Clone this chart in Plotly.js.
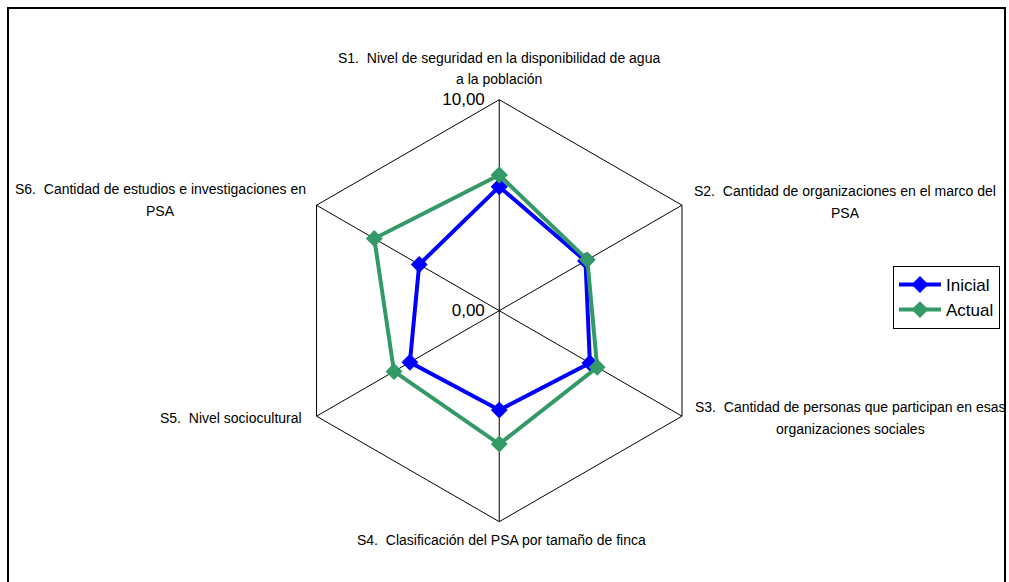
<!DOCTYPE html>
<html>
<head>
<meta charset="utf-8">
<script src="https://cdn.plot.ly/plotly-3.0.1.min.js"></script>
<style>html,body{margin:0;padding:0;background:#fff;}#chart{width:1009px;height:582px;}</style>
</head>
<body>
<div id="chart"></div>
<script>
var categories = [
  "S1.\u00a0 Nivel de seguridad en la disponibilidad de agua<br>a la población",
  "S2.\u00a0 Cantidad de organizaciones en el marco del<br>PSA",
  "S3.\u00a0 Cantidad de personas que participan en esas<br>organizaciones sociales",
  "S4.\u00a0 Clasificación del PSA por tamaño de finca",
  "S5.\u00a0 Nivel sociocultural",
  "S6.\u00a0 Cantidad de estudios e investigaciones en<br>PSA"
];
var inicial = [5.88, 4.72, 4.96, 4.71, 4.89, 4.38];
var actual  = [6.43, 4.82, 5.36, 6.32, 5.76, 6.84];
var radialTicks = [0, 10];
var radialTickText = ["0,00", "10,00"];

function closed(a){ return a.concat([a[0]]); }

var traces = [
  {type:'scatterpolar', name:'Inicial', r:closed(inicial), theta:closed(categories),
   mode:'lines+markers', line:{color:'#0000FF', width:4},
   marker:{symbol:'diamond', size:13, color:'#0000FF'}},
  {type:'scatterpolar', name:'Actual', r:closed(actual), theta:closed(categories),
   mode:'lines+markers', line:{color:'#339966', width:4},
   marker:{symbol:'diamond', size:13, color:'#339966'}}
];

var W = 1009, H = 582;
var labelPos = [
  {x:499, y:58, anchor:'center'},
  {x:845, y:191, anchor:'center'},
  {x:850, y:407, anchor:'center'},
  {x:501, y:540, anchor:'center'},
  {x:304, y:418, anchor:'right'},
  {x:160, y:189, anchor:'center'}
];
var lineGap = 21.5;
var annotations = [];
categories.forEach(function(c, i){
  var lines = c.split('<br>');
  var p = labelPos[i];
  lines.forEach(function(t, j){
    annotations.push({xref:'paper', yref:'paper', showarrow:false,
      x:p.x/W, y:1 - (p.y + j*lineGap)/H,
      xanchor:(p.anchor === 'right' ? 'right' : 'center'), yanchor:'middle',
      text:t, font:{size:14, color:'#000'}});
  });
});

var layout = {
  width:W, height:H,
  margin:{l:0, r:0, t:0, b:0},
  paper_bgcolor:'#fff', plot_bgcolor:'#fff',
  font:{family:'"Liberation Sans", Arial, sans-serif', color:'#000'},
  showlegend:true,
  legend:{x:0.885, y:0.543, xanchor:'left', yanchor:'top',
    bordercolor:'#000', borderwidth:1, bgcolor:'#fff',
    font:{size:17, color:'#000'}, tracegroupgap:0, itemwidth:42},
  polar:{
    domain:{x:[0.2857,0.7039], y:[0.1036,0.8287]},
    bgcolor:'#fff',
    gridshape:'linear',
    angularaxis:{direction:'clockwise', rotation:90, type:'category',
      showline:true, linecolor:'#000', linewidth:1,
      showgrid:true, gridcolor:'#000', gridwidth:1,
      ticks:'', showticklabels:false},
    radialaxis:{range:[0,10], tickvals:radialTicks, ticktext:radialTickText,
      showline:false, showgrid:true, gridcolor:'#000', gridwidth:1,
      ticks:'outside', ticklen:8, tickcolor:'rgba(0,0,0,0)',
      side:'counterclockwise', angle:90, tickangle:90,
      tickfont:{size:17, color:'#000'}}
  },
  annotations:annotations,
  shapes:[{type:'rect', xref:'paper', yref:'paper',
    x0:8/1009, x1:1005/1009, y0:-0.05, y1:1-8/582,
    line:{color:'#000', width:2}, fillcolor:'rgba(0,0,0,0)'}]
};

Plotly.newPlot('chart', traces, layout, {displayModeBar:false, staticPlot:true});
</script>
</body>
</html>
